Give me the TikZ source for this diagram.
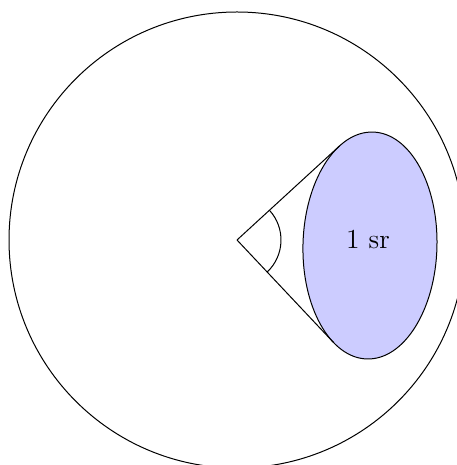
\documentclass[tikz,border=0pt]{standalone}
\usetikzlibrary{calc}
\begin{document}
\begin{tikzpicture}[x=0.4pt,y=0.4pt]
	\useasboundingbox (0,0) rectangle (457,465);
	\coordinate (o) at (237,225);
	\coordinate (c) at (370,219.5);
	\draw (o) circle [radius=228];
	\begin{scope}[rotate around={-1.5:(c)}]
		\filldraw [fill=blue!20] (c) ellipse [x radius=67, y radius=113.5];
		\coordinate (t1) at ($(c)+(119.3:67 and 113.5)$);
		\coordinate (t2) at ($(c)+(239.7:67 and 113.5)$);
	\end{scope}
	\node [font=\fontsize{11}{13}\selectfont] (sr) at (368,226) {1 sr};
	\draw [-] (o) to (t1);
	\draw [-] (o) to (t2);
	\draw (o) ++(42.5:44) arc [start angle=42.5, end angle=-46.7, radius=17.6pt];
\end{tikzpicture}
\end{document}
